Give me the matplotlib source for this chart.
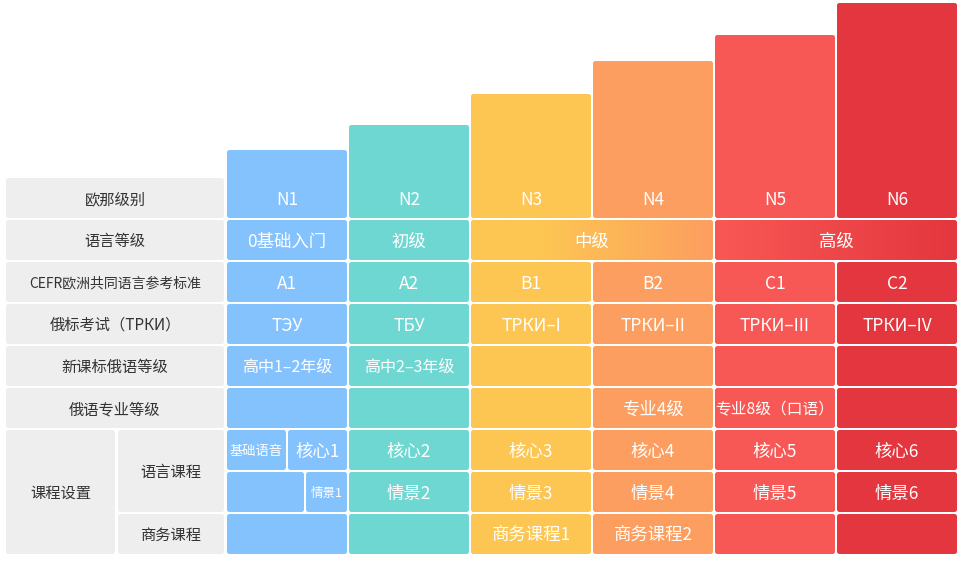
import matplotlib
matplotlib.use("Agg")
import matplotlib.pyplot as plt
import numpy as np
from matplotlib.patches import FancyBboxPatch
from matplotlib.colors import LinearSegmentedColormap

plt.rcParams['font.family'] = ['Noto Sans CJK SC', 'DejaVu Sans']

# ---------------- data ----------------
levels = ["N1", "N2", "N3", "N4", "N5", "N6"]
bar_heights = [68, 93, 124, 157, 183, 215]          # height of the top cell (px)
col_colors = ["#84C2FE", "#6ED7D2", "#FDC652", "#FC9E60", "#F85855", "#E4363E"]

row_labels = ["欧那级别", "语言等级", "CEFR欧洲共同语言参考标准",
              "俄标考试（ТРКИ）", "新课标俄语等级", "俄语专业等级"]
lang_levels = ["0基础入门", "初级", "中级", "高级"]
lang_spans = [(0, 1), (1, 2), (2, 4), (4, 6)]
cefr = ["A1", "A2", "B1", "B2", "C1", "C2"]
trki = ["ТЭУ", "ТБУ", "ТРКИ–I", "ТРКИ–II", "ТРКИ–III", "ТРКИ–IV"]
new_curr = ["高中1–2年级", "高中2–3年级", "", "", "", ""]
major = ["", "", "", "专业4级", "专业8级（口语）", ""]
core = ["核心1", "核心2", "核心3", "核心4", "核心5", "核心6"]
scene = ["情景1", "情景2", "情景3", "情景4", "情景5", "情景6"]
business = ["", "", "商务课程1", "商务课程2", "", ""]
course_group = "课程设置"
course_sub = ["语言课程", "商务课程"]
phonetics = "基础语音"

# ---------------- layout ----------------
W, H = 964, 561
fig = plt.figure(figsize=(W / 100, H / 100), dpi=100)
ax = fig.add_axes([0, 0, 1, 1])

LBL_X0, LBL_X1 = 6, 224
COL_X0, COL_W, GAP = 227, 120, 2
ROW_Y0, ROW_H = 178, 40
LABEL_BG = "#EEEEEE"
LABEL_FG = "#333333"
R = 2.5
DY = 1.5   # small downward text shift


def cx(i):
    return COL_X0 + i * (COL_W + GAP)


def ry(j):
    return ROW_Y0 + j * (ROW_H + GAP)


def box(x0, y0, x1, y1, color, zorder=1):
    p = FancyBboxPatch((x0, y0), x1 - x0, y1 - y0,
                       boxstyle=f"round,pad=0,rounding_size={R}",
                       fc=color, ec="none", zorder=zorder)
    ax.add_patch(p)
    return p


def txt(x, y, s, size=12.5, color="white"):
    ax.text(x, y + DY, s, ha="center", va="center", fontsize=size, color=color, zorder=5)


# label column
for j, lab in enumerate(row_labels):
    box(LBL_X0, ry(j), LBL_X1, ry(j) + ROW_H, LABEL_BG)
    txt((LBL_X0 + LBL_X1) / 2, ry(j) + ROW_H / 2, lab,
        size=10 if j == 2 else 11, color=LABEL_FG)
mid_x = 115
box(LBL_X0, ry(6), mid_x, ry(8) + ROW_H, LABEL_BG)
txt((LBL_X0 + mid_x) / 2, (ry(6) + ry(8) + ROW_H) / 2, course_group, size=11, color=LABEL_FG)
box(mid_x + 3, ry(6), LBL_X1, ry(7) + ROW_H, LABEL_BG)
txt((mid_x + 3 + LBL_X1) / 2, (ry(6) + ry(7) + ROW_H) / 2, course_sub[0], size=11, color=LABEL_FG)
box(mid_x + 3, ry(8), LBL_X1, ry(8) + ROW_H, LABEL_BG)
txt((mid_x + 3 + LBL_X1) / 2, ry(8) + ROW_H / 2, course_sub[1], size=11, color=LABEL_FG)

# top bars (level row)
for i, (lv, h) in enumerate(zip(levels, bar_heights)):
    bottom = ry(0) + ROW_H
    box(cx(i), bottom - h, cx(i) + COL_W, bottom, col_colors[i])
    txt(cx(i) + COL_W / 2, ry(0) + ROW_H / 2, lv)

# language level row (with gradient merged cells)
for (a, b), lab in zip(lang_spans, lang_levels):
    x0, x1 = cx(a), cx(b - 1) + COL_W
    y0, y1 = ry(1), ry(1) + ROW_H
    if b - a == 1:
        box(x0, y0, x1, y1, col_colors[a])
    else:
        p = box(x0, y0, x1, y1, "none")
        if a == 2:
            cmap = LinearSegmentedColormap.from_list(
                "g", [(0, col_colors[2]), (0.3, col_colors[2]), (1, col_colors[3])])
        else:
            cmap = LinearSegmentedColormap.from_list(
                "g", [(0, col_colors[4]), (1, col_colors[5])])
        grad = np.linspace(0, 1, 256)[None, :]
        im = ax.imshow(grad, cmap=cmap, extent=[x0, x1, y1, y0],
                       aspect="auto", zorder=1, interpolation="bilinear")
        im.set_clip_path(p)
    txt((x0 + x1) / 2, (y0 + y1) / 2, lab)

# simple rows
for j, vals in [(2, cefr), (3, trki), (4, new_curr), (5, major)]:
    for i, v in enumerate(vals):
        box(cx(i), ry(j), cx(i) + COL_W, ry(j) + ROW_H, col_colors[i])
        if v:
            if j == 4:
                size = 11.5
            elif j == 5 and len(v) > 5:
                size = 11.3
            else:
                size = 12.5
            txt(cx(i) + COL_W / 2, ry(j) + ROW_H / 2, v, size=size)

# course rows
for i in range(6):
    c = col_colors[i]
    if i == 0:
        s1 = cx(0) + 59
        box(cx(0), ry(6), s1, ry(6) + ROW_H, c)
        txt((cx(0) + s1) / 2, ry(6) + ROW_H / 2, phonetics, size=9.5)
        box(s1 + 2, ry(6), cx(0) + COL_W, ry(6) + ROW_H, c)
        txt((s1 + 2 + cx(0) + COL_W) / 2, ry(6) + ROW_H / 2, core[0])
        s2 = cx(0) + 77
        box(cx(0), ry(7), s2, ry(7) + ROW_H, c)
        box(s2 + 2, ry(7), cx(0) + COL_W, ry(7) + ROW_H, c)
        txt((s2 + 2 + cx(0) + COL_W) / 2, ry(7) + ROW_H / 2, scene[0], size=9)
    else:
        box(cx(i), ry(6), cx(i) + COL_W, ry(6) + ROW_H, c)
        txt(cx(i) + COL_W / 2, ry(6) + ROW_H / 2, core[i])
        box(cx(i), ry(7), cx(i) + COL_W, ry(7) + ROW_H, c)
        txt(cx(i) + COL_W / 2, ry(7) + ROW_H / 2, scene[i])
    box(cx(i), ry(8), cx(i) + COL_W, ry(8) + ROW_H, c)
    if business[i]:
        txt(cx(i) + COL_W / 2, ry(8) + ROW_H / 2, business[i])

ax.set_xlim(0, W)
ax.set_ylim(H, 0)
ax.set_aspect("auto")
ax.axis("off")
fig.savefig("out.png", dpi=100, facecolor="white")
